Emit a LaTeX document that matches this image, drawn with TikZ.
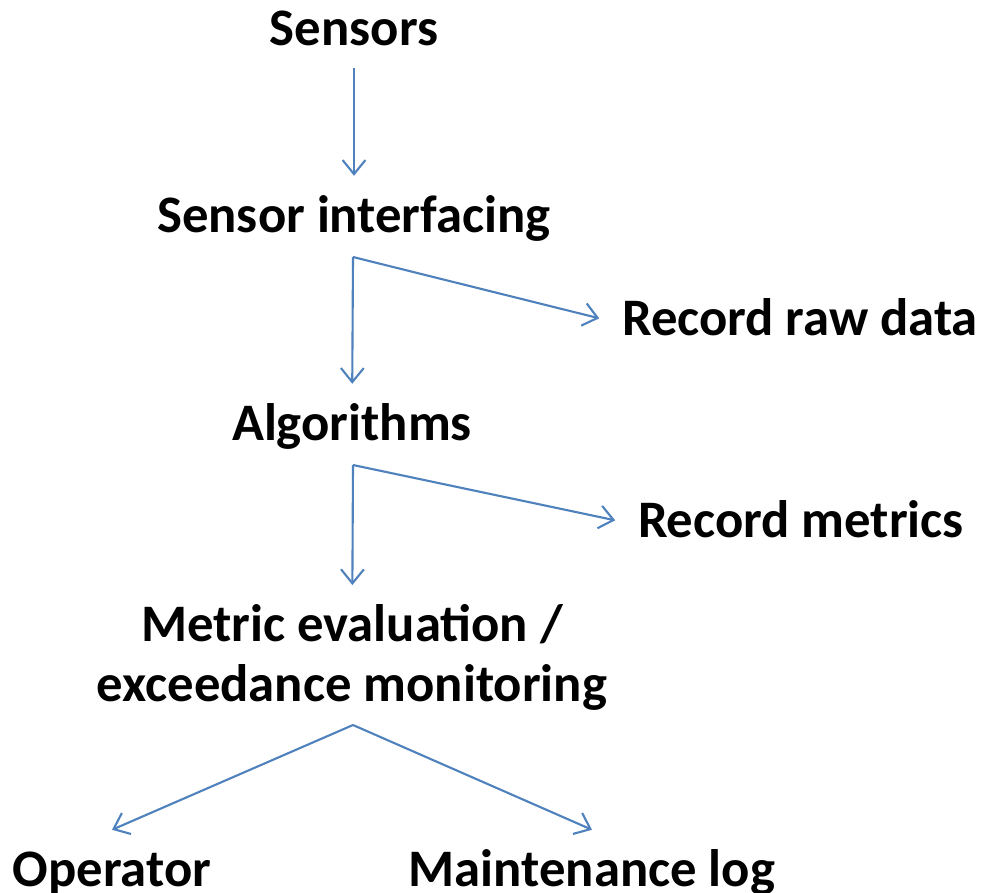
\documentclass[tikz,border=0pt]{standalone}
\usepackage{fontspec}
\setmainfont{Carlito}
\usetikzlibrary{arrows.meta}
\definecolor{flowblue}{HTML}{4F81BD}

\begin{document}
\begin{tikzpicture}[x=0.02cm, y=-0.02cm,
	stage/.style={font=\bfseries\fontsize{30}{34}\selectfont, inner sep=0pt, outer sep=13pt, text height=19pt, text depth=0pt, anchor=base},
	flow/.style={draw=flowblue, line width=1.2pt, -{Straight Barb[length=8pt,width=13pt,line width=1.2pt]}}]
	\useasboundingbox (0,0) rectangle (981,893);

	\node[stage] (sensors) at (354, 45)  {Sensors};
	\node[stage] (iface)   at (354, 232) {Sensor interfacing};
	\node[stage] (raw)     at (800, 335) {Record raw data};
	\node[stage] (algo)    at (352, 440) {Algorithms};
	\node[stage] (metrics) at (801, 537) {Record metrics};
	\node[stage, align=center, text height=53pt] (eval) at (352, 701) {Metric evaluation /\\exceedance monitoring};
	\node[stage] (op)      at (112, 886) {Operator};
	\node[stage] (mlog)    at (592, 886) {Maintenance log};

	\coordinate (split1) at (353, 257);
	\coordinate (split2) at (353, 465);
	\coordinate (split3) at (353, 725);

	\path (sensors) edge[flow] (iface);
	\path (split1) edge[flow] (algo);
	\path (split1) edge[flow] (raw.west);
	\path (split2) edge[flow] (eval);
	\path (split2) edge[flow] (metrics.west);
	\path (split3) edge[flow] (op.north);
	\path (split3) edge[flow] (mlog.north);
\end{tikzpicture}
\end{document}
